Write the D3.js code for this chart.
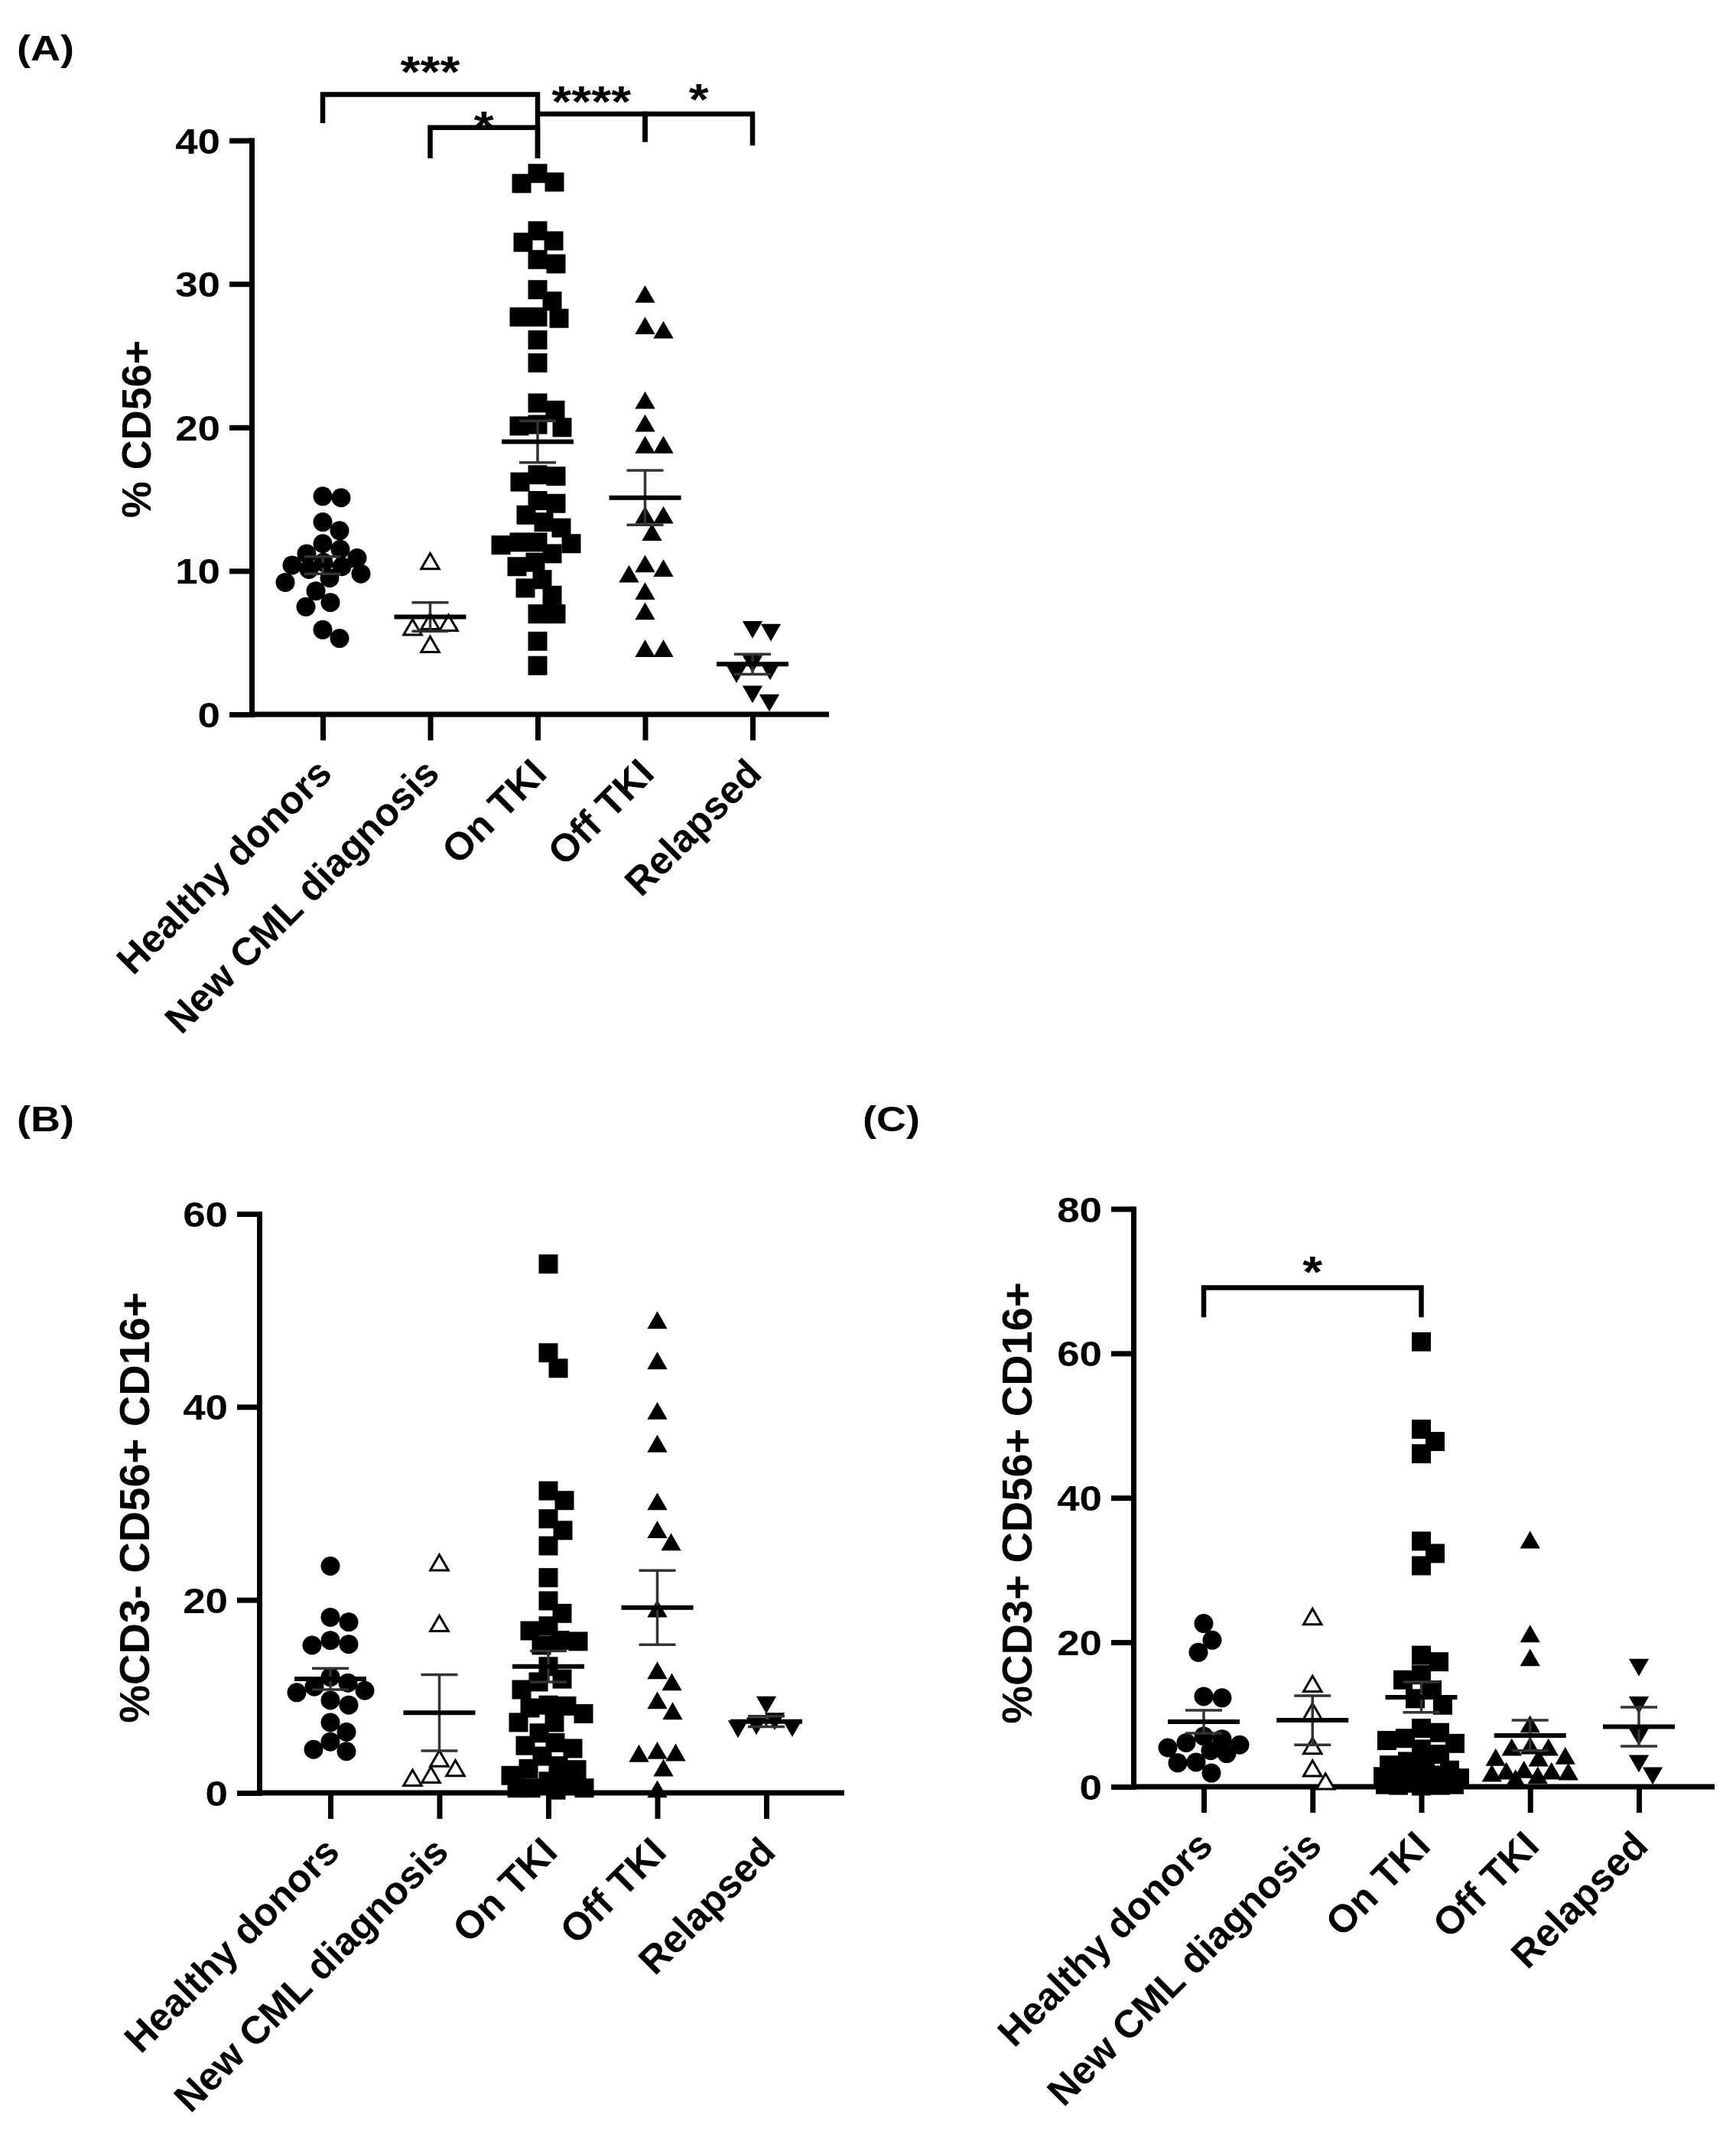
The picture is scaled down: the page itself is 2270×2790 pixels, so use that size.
<!DOCTYPE html>
<html>
<head>
<meta charset="utf-8">
<script src="https://cdn.jsdelivr.net/npm/d3@7"></script>
<style>
  body { margin: 0; background: #fff; }
  svg { display: block; }
  text { font-family: 'Liberation Sans', Arial, sans-serif; font-weight: bold; fill: #000; }
</style>
</head>
<body>
<svg id="fig" width="2270" height="2790"></svg>
<script>
// groups, in column order, and the symbol each one wears
const categories = ['Healthy donors', 'New CML diagnosis', 'On TKI', 'Off TKI', 'Relapsed'];
const symbols = ['circle', 'triangleOpen', 'square', 'triangle', 'triangleDown'];

// (A) % CD56+
const cd56 = [
  [15.2, 15.1, 13.4, 12.8, 11.9, 11.5, 11.2, 10.9, 10.6, 10.4, 10.3, 10.1, 9.8, 9.5, 9.2, 8.6, 7.8, 7.5, 5.9, 5.3],
  [10.5, 6.3, 6.2, 5.9, 4.7],
  [37.7, 37.1, 37.0, 33.7, 33.0, 32.9, 31.7, 31.4, 29.6, 28.8, 27.7, 27.7, 27.6, 26.1, 24.5, 21.7, 21.2,
   20.2, 20.1, 20.0, 16.7, 16.6, 16.2, 14.9, 14.7, 13.9, 13.4, 13.0, 12.0, 12.0, 11.9, 11.8, 11.2, 10.6,
   10.3, 9.4, 8.8, 8.3, 7.0, 7.0, 5.1, 3.4],
  [29.1, 26.9, 26.6, 21.7, 20.1, 18.6, 18.6, 13.7, 13.7, 12.5, 10.3, 10.0, 9.6, 8.4, 7.0, 4.4, 4.4],
  [6.1, 5.9, 3.7, 3.2, 3.0, 1.6, 1.0],
];
const cd56Mean = [10.4, 6.8, 19.0, 15.1, 3.5];
const cd56Sem = [0.6, 1.0, 1.45, 1.9, 0.7];
const cd56Ticks = [0, 10, 20, 30, 40];
const cd56Brackets = [
  { from: 'Healthy donors', to: 'On TKI', y: 43.2, left: 41.2, right: 38.75, text: '***', textY: 45.4 },
  { from: 'New CML diagnosis', to: 'On TKI', y: 40.9, left: 38.75, right: 38.75, text: '*', textY: 41.6 },
  { from: 'On TKI', to: 'Off TKI', y: 41.85, left: 41.85, right: 39.9, text: '****', textY: 43.35 },
  { from: 'Off TKI', to: 'Relapsed', y: 41.85, left: 39.9, right: 39.65, text: '*', textY: 43.5 },
];

// (B) %CD3- CD56+ CD16+
const cd3neg = [
  [23.5, 18.2, 17.7, 15.8, 15.4, 15.3, 12.0, 11.4, 11.0, 10.6, 10.4, 9.6, 9.1, 7.3, 6.3, 5.3, 4.5, 4.3],
  [23.6, 17.3, 3.3, 2.3, 1.6, 1.3],
  [54.8, 45.6, 44.0, 31.3, 30.3, 28.4, 27.2, 25.6, 22.3, 19.9, 18.6, 17.3, 16.8, 15.8, 15.7, 15.3, 13.1,
   11.8, 11.5, 10.7, 9.1, 9.0, 8.8, 8.2, 7.3, 7.3, 6.2, 5.2, 4.9, 4.6, 3.8, 2.8, 2.5, 2.4, 1.8, 1.2,
   0.9, 0.5, 0.5, 0.5, 0.3],
  [48.7, 44.5, 39.3, 35.9, 29.9, 27.0, 25.7, 18.8, 12.4, 11.2, 9.3, 8.2, 4.1, 3.9, 3.8, 2.3, 0.1],
  [9.4, 7.7, 7.2, 7.0, 6.9],
];
const cd3negMean = [11.8, 8.3, 13.1, 19.2, 7.4];
const cd3negSem = [1.1, 3.95, 1.6, 3.85, 0.55];
const cd3negTicks = [0, 20, 40, 60];

// (C) %CD3+ CD56+ CD16+
const cd3pos = [
  [22.6, 20.3, 18.6, 12.5, 12.3, 7.0, 6.6, 6.1, 5.8, 5.4, 5.0, 4.6, 3.4, 3.3, 1.9],
  [23.2, 13.9, 10.1, 5.3, 2.2, 0.4],
  [61.6, 49.5, 47.8, 46.1, 34.0, 32.3, 30.6, 18.2, 17.3, 15.5, 14.8, 13.4, 12.2, 11.3, 8.1, 7.5, 6.7,
   6.4, 6.0, 5.2, 4.5, 3.5, 3.0, 2.6, 2.3, 2.0, 1.8, 1.6, 1.4, 1.2, 1.0, 0.9, 0.8, 0.6, 0.5, 0.4,
   0.3, 0.3, 0.2, 0.2, 0.1],
  [33.8, 20.8, 17.5, 8.3, 5.3, 5.1, 5.1, 3.9, 3.7, 3.6, 2.0, 1.8, 1.8, 1.7, 1.5, 1.2, 0.8],
  [16.9, 11.7, 7.3, 3.6, 1.9],
];
const cd3posMean = [9.0, 9.2, 12.4, 7.1, 8.3];
const cd3posSem = [1.6, 3.4, 2.1, 2.1, 2.7];
const cd3posTicks = [0, 20, 40, 60, 80];
const cd3posBrackets = [
  { from: 'Healthy donors', to: 'On TKI', y: 69.1, left: 65.0, right: 65.0, text: '*', textY: 72.5 },
];

// layout of the three panels on the page
const panels = [
  { label: '(A)', title: '% CD56+', values: cd56, means: cd56Mean, sems: cd56Sem, ticks: cd56Ticks,
    brackets: cd56Brackets,
    box: { left: 329, right: 1084, top: 183.6, bottom: 934, first: 422, last: 984,
           labelX: 22, labelY: 79, titleX: 197, titleY: 561, titleSize: 54 } },
  { label: '(B)', title: '%CD3- CD56+ CD16+', values: cd3neg, means: cd3negMean, sems: cd3negSem,
    ticks: cd3negTicks, brackets: [],
    box: { left: 339, right: 1104, top: 1587, bottom: 2344, first: 432, last: 1002,
           labelX: 22, labelY: 1479, titleX: 195, titleY: 1971, titleSize: 56 } },
  { label: '(C)', title: '%CD3+ CD56+ CD16+', values: cd3pos, means: cd3posMean, sems: cd3posSem,
    ticks: cd3posTicks, brackets: cd3posBrackets,
    box: { left: 1482, right: 2242, top: 1580.5, bottom: 2336, first: 1574, last: 2143,
           labelX: 1128, labelY: 1479, titleX: 1349, titleY: 1965, titleSize: 56 } },
];

const SX = 1.15;          // horizontal text in the figure is a little wide
const AXIS_W = 7;
const MARK = 25;

const svg = d3.select('#fig');
svg.append('rect').attr('width', 2270).attr('height', 2790).attr('fill', '#fff');

const shape = {
  circle: d3.symbol(d3.symbolCircle, Math.PI * (MARK / 2) ** 2)(),
  square: d3.symbol(d3.symbolSquare, MARK * MARK)(),
  triangle: d3.symbol(d3.symbolTriangle, 300)(),
  triangleDown: d3.symbol(d3.symbolTriangle, 300)(),
  triangleOpen: d3.symbol(d3.symbolTriangle, 240)(),
};

panels.forEach(drawPanel);

function drawPanel(p) {
  const b = p.box;
  const y = d3.scaleLinear().domain([0, d3.max(p.ticks)]).range([b.bottom, b.top]);
  const x = d3.scalePoint().domain(categories).range([b.first, b.last]);
  const g = svg.append('g');

  // x axis line + category ticks
  g.append('line')
    .attr('x1', b.left).attr('x2', b.right).attr('y1', b.bottom).attr('y2', b.bottom)
    .attr('stroke', '#000').attr('stroke-width', AXIS_W);

  const gx = g.append('g').attr('transform', `translate(0,${b.bottom})`)
    .call(d3.axisBottom(x).tickSize(34).tickSizeOuter(0));
  gx.select('.domain').remove();
  gx.attr('font-family', null).attr('font-size', 51);
  gx.selectAll('.tick line').attr('stroke-width', AXIS_W);
  gx.selectAll('.tick text')
    .attr('x', 0).attr('y', 0).attr('dy', null)
    .attr('text-anchor', 'end')
    .attr('transform', 'translate(14,80) rotate(-45)');

  // y axis
  const gy = g.append('g').attr('transform', `translate(${b.left},0)`)
    .call(d3.axisLeft(y).tickValues(p.ticks).tickSize(29).tickSizeOuter(0).tickFormat(d3.format('d')));
  gy.attr('font-family', null).attr('font-size', 46);
  gy.select('.domain').attr('stroke-width', AXIS_W).attr('stroke-linecap', 'square');
  gy.selectAll('.tick line').attr('stroke-width', AXIS_W);
  gy.selectAll('.tick text')
    .attr('x', -41 / SX).attr('dy', '0.36em')
    .attr('transform', `scale(${SX},1)`);

  // y title
  g.append('text')
    .attr('transform', `translate(${b.titleX},${b.titleY}) rotate(-90)`)
    .attr('text-anchor', 'middle').attr('font-size', b.titleSize)
    .text(p.title);

  // panel letter
  g.append('text')
    .attr('transform', `translate(${b.labelX},${b.labelY}) scale(${SX},1)`)
    .attr('font-size', 47)
    .text(p.label);

  // points
  p.values.forEach((vals, i) => {
    const cx = x(categories[i]);
    const sym = symbols[i];
    const offs = swarm(vals, y, MARK - 1, 50);
    g.append('g').selectAll('path').data(vals).join('path')
      .attr('d', shape[sym])
      .attr('transform', (v, k) => `translate(${cx + offs[k]},${y(v)})${sym === 'triangleDown' ? ' rotate(180)' : ''}`)
      .attr('fill', sym === 'triangleOpen' ? '#fff' : '#000')
      .attr('stroke', sym === 'triangleOpen' ? '#000' : 'none')
      .attr('stroke-width', 3);
  });

  // mean and SEM
  const eg = g.append('g');
  categories.forEach((c, i) => {
    const cx = x(c), m = p.means[i], s = p.sems[i];
    eg.append('line').attr('x1', cx).attr('x2', cx).attr('y1', y(m - s)).attr('y2', y(m + s))
      .attr('stroke', '#333').attr('stroke-width', 3.5);
    [m - s, m + s].forEach((v) => eg.append('line')
      .attr('x1', cx - 24).attr('x2', cx + 24).attr('y1', y(v)).attr('y2', y(v))
      .attr('stroke', '#333').attr('stroke-width', 3.5));
    eg.append('line').attr('x1', cx - 47).attr('x2', cx + 47).attr('y1', y(m)).attr('y2', y(m))
      .attr('stroke', '#000').attr('stroke-width', 6);
  });

  // significance brackets
  p.brackets.forEach((br) => {
    const x1 = x(br.from), x2 = x(br.to);
    g.append('path')
      .attr('d', `M${x1},${y(br.left)}V${y(br.y)}H${x2}V${y(br.right)}`)
      .attr('fill', 'none').attr('stroke', '#000').attr('stroke-width', 6.5);
    g.append('text')
      .attr('transform', `translate(${(x1 + x2) / 2},${y(br.textY) + 32}) scale(${SX},1)`)
      .attr('text-anchor', 'middle').attr('font-size', 58)
      .text(br.text);
  });
}

// horizontal offsets so symbols of one column do not sit on each other
function swarm(vals, y, d, maxOff) {
  const order = d3.range(vals.length).sort((a, b) => vals[b] - vals[a]);
  const placed = [];
  const out = new Array(vals.length);
  for (const i of order) {
    const py = y(vals[i]);
    let pick = 0, bestGap = -1, found = false;
    for (let k = 0; k <= maxOff && !found; k++) {
      for (const dx of k ? [k, -k] : [0]) {
        let gap = Infinity;
        for (const q of placed) gap = Math.min(gap, Math.hypot(q.x - dx, q.y - py));
        if (gap >= d) { pick = dx; found = true; break; }
        if (gap > bestGap) { bestGap = gap; pick = dx; }
      }
    }
    placed.push({ x: pick, y: py });
    out[i] = pick;
  }
  return out;
}
</script>
</body>
</html>
